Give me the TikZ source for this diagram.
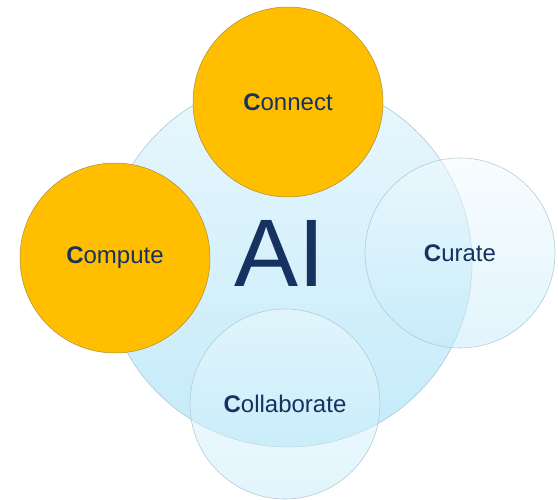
\documentclass[tikz,border=0pt]{standalone}
\usepackage{fontspec}
\setmainfont{Liberation Sans}
\definecolor{navy}{RGB}{22,50,96}
\definecolor{gold}{RGB}{255,190,0}
\definecolor{goldline}{RGB}{170,140,60}
\definecolor{bluetop}{RGB}{233,247,253}
\definecolor{bluebot}{RGB}{196,235,250}
\definecolor{blueline}{RGB}{175,200,210}
\tikzset{
  bigc/.style={circle, minimum size=368pt, inner sep=0pt, draw=blueline, line width=0.6pt,
    top color=bluetop, bottom color=bluebot},
  goldc/.style={circle, minimum size=190pt, inner sep=0pt, draw=goldline, line width=0.5pt,
    fill=gold, text=navy, font=\fontsize{24}{28}\selectfont},
  bluec/.style={circle, minimum size=190pt, inner sep=0pt, draw=blueline, line width=0.6pt,
    top color=bluetop!60!white, bottom color=bluebot, fill opacity=0.5, draw opacity=0.9,
    text opacity=1, text=navy, font=\fontsize{24}{28}\selectfont},
}
\begin{document}
\begin{tikzpicture}[x=1pt,y=-1pt]
\useasboundingbox (0,0) rectangle (558,500);
\node[bigc] (ai) at (288,263) {};
\node[text=navy, font=\fontsize{96}{100}\selectfont, anchor=base] (ailabel) at (280,287) {AI};
\node[goldc] (connect) at (288,102) {};
\node[goldc] (compute) at (115,258) {};
\node[bluec] (curate) at (460,253) {};
\node[bluec] (collab) at (285,404) {};
\node[text=navy, font=\fontsize{24}{28}\selectfont] (connectlabel) at (connect) {{\bfseries C}onnect};
\node[text=navy, font=\fontsize{24}{28}\selectfont] (computelabel) at (compute) {{\bfseries C}ompute};
\node[text=navy, font=\fontsize{24}{28}\selectfont] (curatelabel) at (curate) {{\bfseries C}urate};
\node[text=navy, font=\fontsize{24}{28}\selectfont] (collablabel) at (collab) {{\bfseries C}ollaborate};
\end{tikzpicture}
\end{document}
